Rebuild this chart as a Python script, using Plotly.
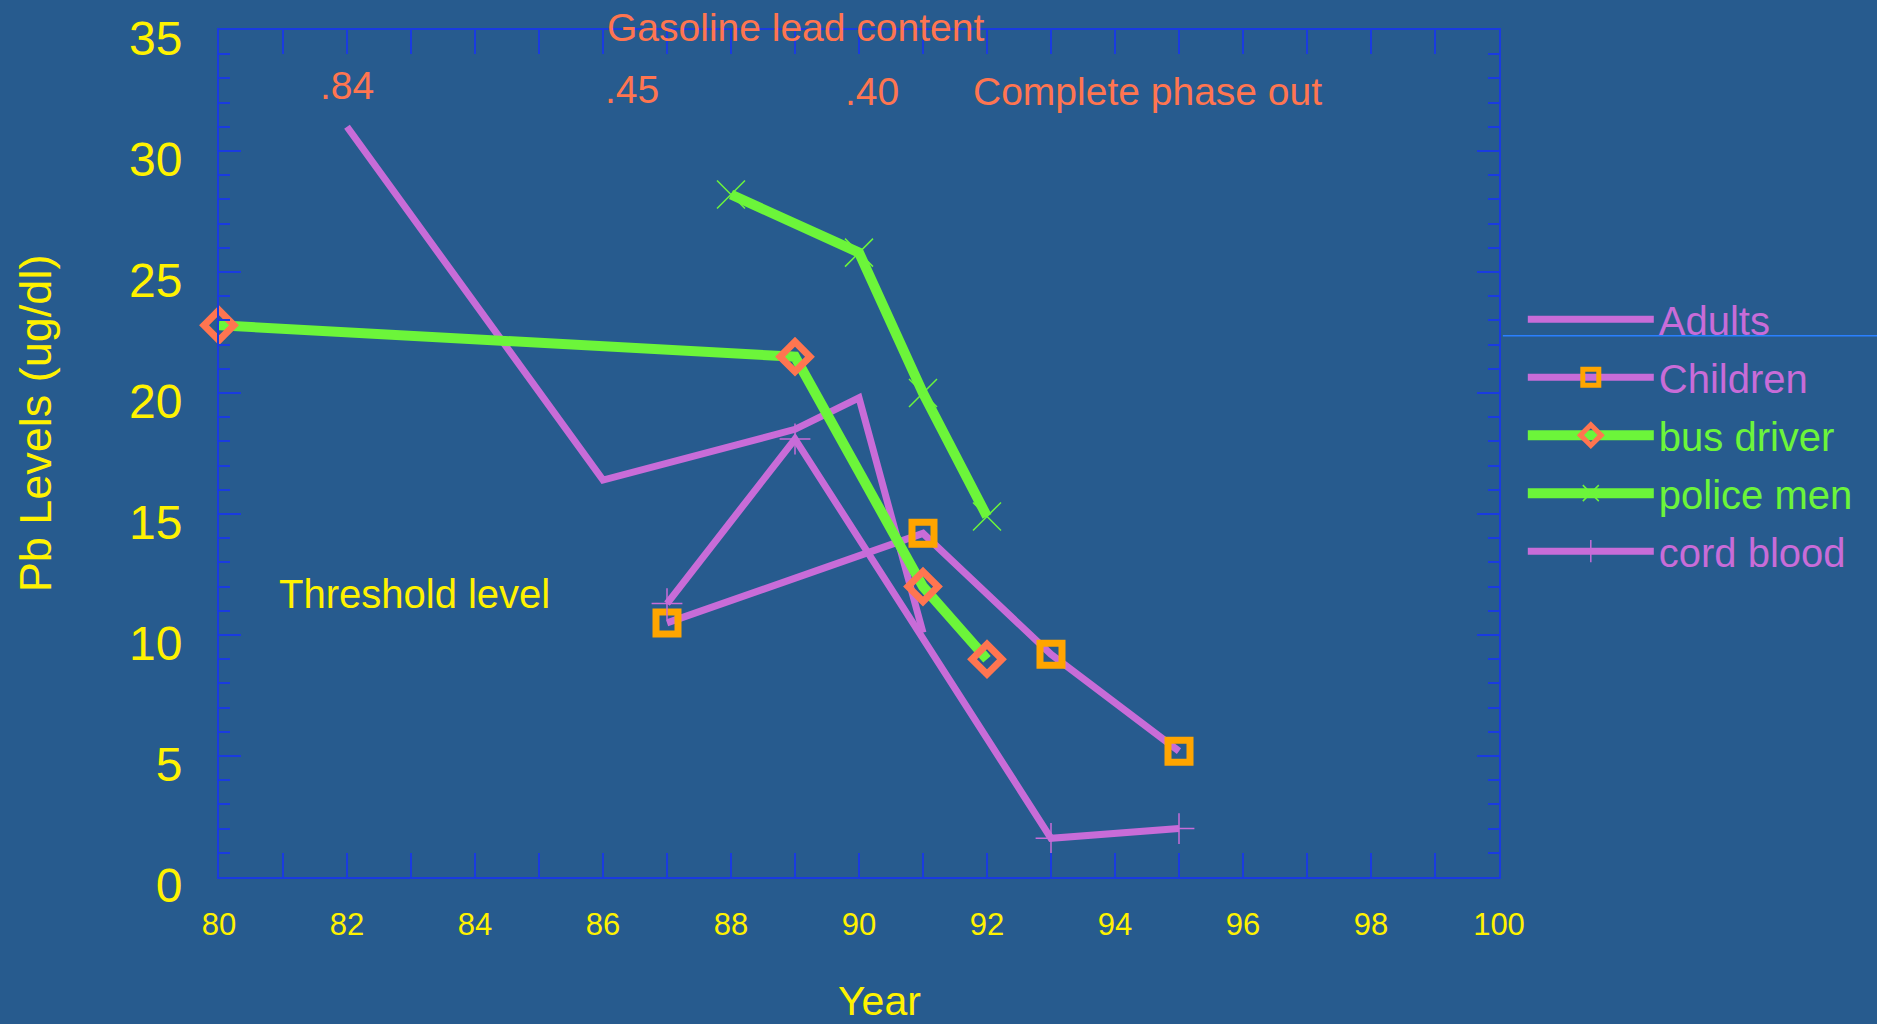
import plotly.graph_objects as go

# ---- data ----
adults_x = [82, 86, 89, 90, 91]
adults_y = [31.0, 16.4, 18.5, 19.8, 10.1]

children_x = [87, 91, 93, 95]
children_y = [10.5, 14.2, 9.2, 5.2]

bus_x = [80, 89, 91, 92]
bus_y = [22.8, 21.5, 12.0, 9.0]

police_x = [88, 90, 91, 92]
police_y = [28.2, 25.8, 20.0, 14.9]

cord_x = [87, 89, 93, 95]
cord_y = [11.3, 18.1, 1.6, 2.0]

lead_labels = [".84", ".45", ".40", "Complete phase out"]
lead_x = [82.0, 86.45, 90.2, 94.5]
lead_y = [32.7, 32.55, 32.45, 32.45]

# ---- styles ----
BG = "#275B8E"
AXIS = "#1A3BE0"
PURPLE = "#C86CD8"
GREEN = "#6CF53A"
CORAL = "#FF7550"
ORANGE = "#FFA500"
YELLOW = "#FFF200"
FONT = "Liberation Sans, Arial, sans-serif"

fig = go.Figure()

def nm(text, color):
    return f"<span style='color:{color}'>{text}</span>"

fig.add_trace(go.Scatter(x=adults_x, y=adults_y, mode="lines", name=nm("Adults", PURPLE),
                         line=dict(color=PURPLE, width=7), legendgroup="a", cliponaxis=False))
fig.add_trace(go.Scatter(x=children_x, y=children_y, mode="lines+markers", name=nm("Children", PURPLE),
                         line=dict(color=PURPLE, width=7),
                         marker=dict(symbol="square-open", size=22, color=ORANGE,
                                     line=dict(color=ORANGE, width=7)), legendgroup="b", cliponaxis=False))
fig.add_trace(go.Scatter(x=bus_x, y=bus_y, mode="lines+markers", name=nm("bus driver", GREEN),
                         line=dict(color=GREEN, width=10),
                         marker=dict(symbol="diamond-open", size=23, color=CORAL,
                                     line=dict(color=CORAL, width=7)), legendgroup="c", cliponaxis=False))
fig.add_trace(go.Scatter(x=police_x, y=police_y, mode="lines+markers", name=nm("police men", GREEN),
                         line=dict(color=GREEN, width=10),
                         marker=dict(symbol="x-thin", size=28, color=GREEN,
                                     line=dict(color=GREEN, width=1.5)), legendgroup="d", cliponaxis=False))
fig.add_trace(go.Scatter(x=cord_x, y=cord_y, mode="lines+markers", name=nm("cord blood", PURPLE),
                         line=dict(color=PURPLE, width=7),
                         marker=dict(symbol="cross-thin", size=22, color=PURPLE,
                                     line=dict(color=PURPLE, width=1.5)), legendgroup="e", cliponaxis=False))

annotations = []
for t, x, y in zip(lead_labels, lead_x, lead_y):
    annotations.append(dict(x=x, y=y, xref="x", yref="y", text=t, showarrow=False,
                            font=dict(family=FONT, size=39, color=CORAL)))
annotations.append(dict(x=89.0, y=1.003, xref="x", yref="paper", text="Gasoline lead content",
                        showarrow=False, yanchor="middle",
                        font=dict(family=FONT, size=39, color=CORAL)))
annotations.append(dict(x=83.05, y=11.7, xref="x", yref="y", text="Threshold level",
                        showarrow=False, font=dict(family=FONT, size=40, color=YELLOW)))
annotations.append(dict(x=-0.165, y=0.536, xref="paper", yref="paper", text="Pb Levels (ug/dl)",
                        textangle=-90, showarrow=False, font=dict(family=FONT, size=45, color=YELLOW)))
annotations.append(dict(x=0.516, y=-0.176, xref="paper", yref="paper", text="Year",
                        showarrow=False, font=dict(family=FONT, size=41, color=YELLOW)))

fig.update_layout(
    width=1877, height=1024,
    margin=dict(l=219, r=378, t=26, b=147),
    paper_bgcolor=BG, plot_bgcolor=BG,
    font=dict(family=FONT, color=YELLOW),
    showlegend=True,
    legend=dict(x=1.0186, y=0.697, xanchor="left", yanchor="top", bgcolor="rgba(0,0,0,0)",
                font=dict(family=FONT, size=40), itemwidth=126, tracegroupgap=3,
                traceorder="grouped"),
    annotations=annotations,
    shapes=[dict(type="line", xref="paper", yref="paper", x0=1.003, x1=1.3, y0=0.639, y1=0.639,
                 line=dict(color="#2A80FF", width=1.5))],
)

fig.update_xaxes(range=[80, 100], tick0=80, dtick=2, ticks="inside", ticklen=24, tickwidth=2,
                 tickcolor=AXIS, showline=True, linecolor=AXIS, linewidth=2, mirror="ticks",
                 showgrid=False, zeroline=False, ticklabelstandoff=19,
                 tickfont=dict(family=FONT, size=31, color=YELLOW),
                 minor=dict(dtick=1, ticks="inside", ticklen=24, tickwidth=2, tickcolor=AXIS))
fig.update_yaxes(range=[0, 35], tick0=0, dtick=5, ticks="inside", ticklen=22, tickwidth=2,
                 tickcolor=AXIS, showline=True, linecolor=AXIS, linewidth=2, mirror="ticks",
                 showgrid=False, zeroline=False, ticklabelstandoff=25, ticklabelshift=8,
                 ticklabeloverflow="allow",
                 tickfont=dict(family=FONT, size=48, color=YELLOW),
                 minor=dict(dtick=1, ticks="inside", ticklen=11, tickwidth=2, tickcolor=AXIS))

fig.write_html("out.html", include_plotlyjs=True, full_html=True,
               config={"displayModeBar": False},
               post_script="document.body.style.margin='0';document.body.style.overflow='hidden';")
